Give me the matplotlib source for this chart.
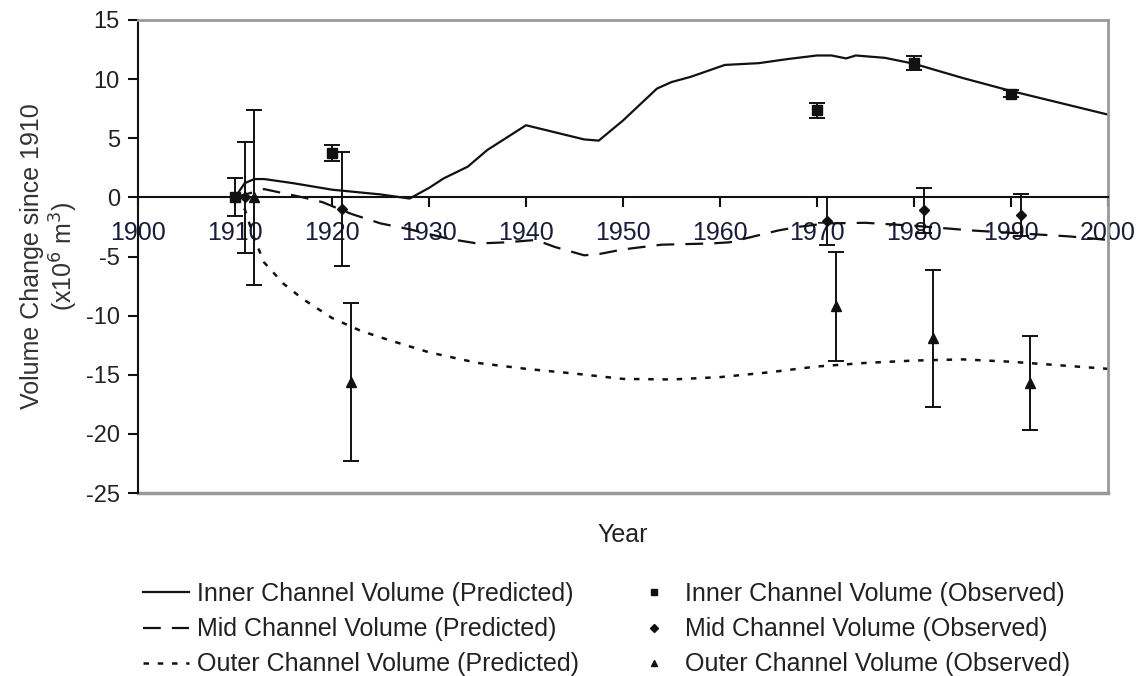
import numpy as np
import matplotlib
matplotlib.use("Agg")
import matplotlib.pyplot as plt
from matplotlib.lines import Line2D

plt.rcParams['font.family'] = ['Liberation Sans', 'DejaVu Sans']
plt.rcParams['axes.unicode_minus'] = False

# predicted curves
inner_years = [1910, 1911, 1912, 1913, 1916, 1920, 1925, 1928, 1930, 1931.5, 1934, 1936, 1940, 1943, 1946, 1947.5,
               1950, 1953.5, 1955, 1957, 1960.5, 1964, 1967, 1970, 1971.5, 1973, 1974, 1977, 1980, 1985, 1990, 1995, 2000]
inner_pred = [0, 1.2, 1.55, 1.55, 1.2, 0.65, 0.25, -0.1, 0.8, 1.6, 2.6, 4.0, 6.1, 5.5, 4.9, 4.8,
              6.5, 9.2, 9.75, 10.2, 11.2, 11.35, 11.7, 12.0, 12.0, 11.75, 12.0, 11.8, 11.3, 10.1, 9.0, 8.0, 7.0]

mid_years = [1910, 1913, 1917, 1919, 1922, 1925, 1928, 1932, 1935, 1938, 1941, 1943, 1946, 1947.5, 1950, 1954,
             1959, 1961, 1964, 1966, 1968, 1971, 1975, 1980, 1983, 1986, 1992, 1996, 2000]
mid_pred = [0, 0.7, 0, -0.4, -1.4, -2.2, -2.7, -3.5, -3.9, -3.8, -3.6, -4.2, -4.9, -4.8, -4.4, -4.0,
            -3.9, -3.8, -3.2, -2.8, -2.5, -2.2, -2.15, -2.4, -2.6, -2.8, -3.1, -3.3, -3.6]

outer_years = [1910, 1911, 1912, 1913, 1915, 1917, 1920, 1923, 1926, 1930, 1935, 1940, 1945, 1950, 1955,
               1960, 1965, 1970, 1975, 1980, 1985, 1990, 1995, 2000]
outer_pred = [0, -1.0, -3.5, -5.5, -7.3, -8.6, -10.2, -11.3, -12.1, -13.1, -14.0, -14.5, -14.9, -15.35, -15.4,
              -15.2, -14.8, -14.3, -14.0, -13.8, -13.7, -13.9, -14.2, -14.5]

# observations with error bars
inner_obs_years = [1910, 1920, 1970, 1980, 1990]
inner_obs = [0, 3.75, 7.35, 11.35, 8.75]
inner_err = [1.6, 0.7, 0.6, 0.6, 0.3]
mid_obs_years = [1911, 1921, 1971, 1981, 1991]
mid_obs = [0, -1.0, -2.0, -1.1, -1.5]
mid_err = [4.7, 4.8, 2.0, 1.9, 1.8]
outer_obs_years = [1912, 1922, 1972, 1982, 1992]
outer_obs = [0, -15.6, -9.2, -11.9, -15.7]
outer_err = [7.4, 6.7, 4.6, 5.8, 4.0]

labels_pred = ["Inner Channel Volume (Predicted)", "Mid Channel Volume (Predicted)", "Outer Channel Volume (Predicted)"]
labels_obs = ["Inner Channel Volume (Observed)", "Mid Channel Volume (Observed)", "Outer Channel Volume (Observed)"]

K = "#111111"
fig = plt.figure(figsize=(11.42, 6.76), dpi=100)
ax = fig.add_axes([138/1142, 1-493/676, (1108-138)/1142, (493-20)/676])

l1, = ax.plot(inner_years, inner_pred, color=K, lw=1.6)
l2, = ax.plot(mid_years, mid_pred, color=K, lw=1.6, linestyle=(0, (8, 5)))
l3, = ax.plot(outer_years, outer_pred, color=K, lw=1.8, linestyle=(0, (2.2, 3.5)))

eb = dict(color=K, ecolor=K, elinewidth=1.4, capsize=6, capthick=1.4, linestyle="none")
ax.errorbar(inner_obs_years, inner_obs, yerr=inner_err, marker="s", ms=7, **eb)
ax.errorbar(mid_obs_years, mid_obs, yerr=mid_err, marker="D", ms=5, **eb)
ax.errorbar(outer_obs_years, outer_obs, yerr=outer_err, marker="^", ms=7, **eb)

ax.set_xlim(1900, 2000); ax.set_ylim(-25, 15)
ax.set_xticks(np.arange(1900, 2001, 10)); ax.set_yticks(np.arange(-25, 16, 5))
ax.spines['bottom'].set_position(('data', 0))
ax.spines['bottom'].set_color(K); ax.spines['bottom'].set_linewidth(1.5)
ax.spines['left'].set_color(K); ax.spines['left'].set_linewidth(1.5)
for s in ['top', 'right']:
    ax.spines[s].set_color('#999999'); ax.spines[s].set_linewidth(2)
ax.axhline(-25, color='#999999', lw=2.5, clip_on=False, zorder=0)
ax.tick_params(axis='x', direction='out', length=7, width=1.5, color=K, pad=10, labelsize=18, labelcolor='#1c1c3a')
ax.tick_params(axis='y', direction='out', length=7, width=1.5, color=K, pad=6, labelsize=17, labelcolor='#222222')
for t in ax.get_xticklabels(): t.set_zorder(5)

ax.set_ylabel("Volume Change since 1910\n(x10$^6$ m$^3$)", fontsize=18, color='#333333', labelpad=4,
              linespacing=1.15)
fig.text(623/1142, 1-535/676, "Year", fontsize=18, color='#222222', ha='center', va='center')

# legend proxies: observed entries show the marker only
m1 = Line2D([], [], color=K, marker="s", ms=5, linestyle="none")
m2 = Line2D([], [], color=K, marker="D", ms=4, linestyle="none")
m3 = Line2D([], [], color=K, marker="^", ms=5, linestyle="none")
handles = [l1, l2, l3, m1, m2, m3]
labels = labels_pred + labels_obs
leg = fig.legend(handles, labels, ncol=2, loc='upper left', bbox_to_anchor=(143/1142, 1-582/676),
                 frameon=False, fontsize=18, handlelength=1.85, handletextpad=0.3, columnspacing=2.1,
                 labelspacing=0.45, borderpad=0, borderaxespad=0)
for t in leg.get_texts(): t.set_color('#222222')

fig.savefig("out.png", dpi=100)
